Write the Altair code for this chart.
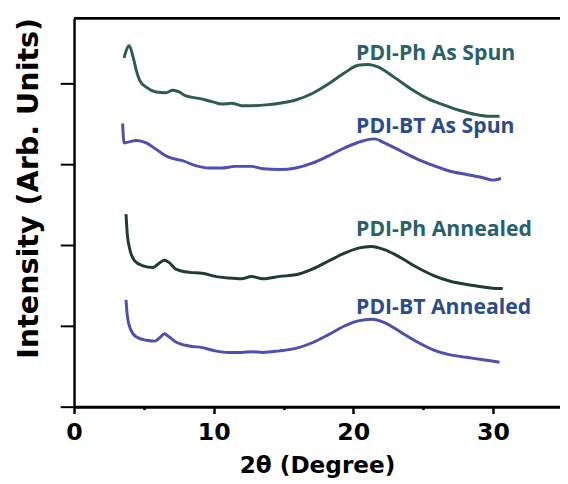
import altair as alt
import pandas as pd

# ---- data (2θ in degrees, intensity in arbitrary offset units) ----
ph_spun_x = [3.58, 3.95, 4.23, 4.47, 4.71, 5.17, 5.88, 6.58, 7.06, 7.53, 8.0, 8.94, 9.88, 10.59, 11.29, 12.0, 12.7,
             13.76, 14.7, 15.88, 17.06, 18.23, 19.41, 20.35, 21.05, 21.76, 22.94, 24.11, 25.29, 26.46, 27.64, 28.81,
             29.76, 30.47]
ph_spun_y = [4.31, 4.46, 4.32, 4.15, 4.03, 3.95, 3.89, 3.88, 3.91, 3.89, 3.84, 3.81, 3.77, 3.74, 3.75, 3.72, 3.72,
             3.73, 3.75, 3.79, 3.87, 3.99, 4.13, 4.22, 4.23, 4.20, 4.07, 3.93, 3.81, 3.73, 3.66, 3.61, 3.59, 3.59]

bt_spun_x = [3.48, 3.58, 3.88, 4.47, 5.17, 5.88, 6.82, 7.76, 8.70, 9.65, 10.59, 11.52, 12.7, 13.53, 14.7, 15.88,
             17.06, 18.23, 19.41, 20.59, 21.52, 22.23, 23.41, 24.58, 25.76, 26.94, 28.11, 29.29, 29.99, 30.58]
bt_spun_y = [3.50, 3.26, 3.27, 3.29, 3.26, 3.18, 3.08, 3.04, 2.98, 2.95, 2.95, 2.97, 2.97, 2.94, 2.93, 2.95, 3.01,
             3.10, 3.20, 3.28, 3.31, 3.26, 3.16, 3.06, 2.98, 2.91, 2.87, 2.83, 2.80, 2.82]

ph_ann_x = [3.72, 3.81, 4.0, 4.35, 4.94, 5.65, 6.0, 6.47, 6.82, 7.29, 8.24, 9.17, 10.11, 11.06, 12.0, 12.7, 13.53,
            14.7, 15.88, 17.06, 18.23, 19.41, 20.35, 21.29, 22.23, 23.41, 24.58, 25.76, 26.94, 28.11, 29.29, 30.23,
            30.7]
ph_ann_y = [2.38, 2.14, 1.94, 1.80, 1.74, 1.72, 1.76, 1.81, 1.78, 1.70, 1.66, 1.65, 1.61, 1.59, 1.58, 1.61, 1.58,
            1.61, 1.63, 1.70, 1.80, 1.90, 1.96, 1.98, 1.94, 1.84, 1.72, 1.62, 1.55, 1.51, 1.48, 1.46, 1.46]

bt_ann_x = [3.72, 3.81, 4.04, 4.47, 5.17, 5.77, 6.12, 6.47, 6.82, 7.29, 8.24, 9.17, 10.11, 11.06, 12.0, 12.7, 13.53,
            14.7, 15.88, 17.06, 18.23, 19.41, 20.35, 21.29, 22.23, 23.41, 24.58, 25.76, 26.94, 28.11, 29.29, 30.47]
bt_ann_y = [1.32, 1.13, 0.96, 0.86, 0.82, 0.81, 0.85, 0.90, 0.86, 0.80, 0.75, 0.73, 0.69, 0.67, 0.67, 0.68, 0.67,
            0.69, 0.72, 0.79, 0.89, 1.00, 1.06, 1.08, 1.04, 0.92, 0.80, 0.70, 0.64, 0.61, 0.58, 0.55]

series_names = ["PDI-Ph As Spun", "PDI-BT As Spun", "PDI-Ph Annealed", "PDI-BT Annealed"]
series_colors = ["#2c5c52", "#4d50b0", "#1f3b33", "#4d50b0"]
label_colors = ["#2a6068", "#2b4c8c", "#2a6068", "#2b4c8c"]
label_x = [20.2, 20.2, 20.2, 20.2]
label_y = [4.29, 3.38, 2.11, 1.15]

x_ticks = [0, 5, 10, 15, 20, 25, 30]
y_ticks = [0, 1, 2, 3, 4]

# ---- tables ----
xs = [ph_spun_x, bt_spun_x, ph_ann_x, bt_ann_x]
ys = [ph_spun_y, bt_spun_y, ph_ann_y, bt_ann_y]
rows = []
for name, sx, sy in zip(series_names, xs, ys):
    for a, b in zip(sx, sy):
        rows.append({"series": name, "x": a, "y": b})
df = pd.DataFrame(rows)
labels = pd.DataFrame({"name": series_names, "x": label_x, "y": label_y, "c": label_colors})

xscale = alt.Scale(domain=[0, 34.8], nice=False, zero=False)
yscale = alt.Scale(domain=[0, 4.8], nice=False, zero=False)

xaxis = alt.Axis(
    values=x_ticks,
    labelExpr="datum.value % 10 === 0 ? datum.label : ''",
    tickSize={"condition": {"test": "datum.value % 10 === 0", "value": 7}, "value": 3},
    labelFlush=False,
    grid=False,
    domainColor="black", domainWidth=3,
    tickColor="black", tickWidth=2.5,
    labelFont="DejaVu Sans", labelFontWeight="bold", labelFontSize=24, labelColor="black", labelPadding=7,
    title="2θ (Degree)", titleFont="DejaVu Sans", titleFontWeight="bold", titleFontSize=23.5,
    titleColor="black", titlePadding=10,
)
yaxis = alt.Axis(
    values=y_ticks, labels=False, grid=False,
    tickSize=14, tickWidth=2, tickColor="black",
    domainColor="black", domainWidth=2.5,
    title="Intensity (Arb. Units)", titleFont="DejaVu Sans", titleFontWeight="bold", titleFontSize=29,
    titleColor="black", titleX=-31, titleY=172,
)

lines = alt.Chart(df).mark_line(strokeWidth=3, interpolate="monotone").encode(
    x=alt.X("x:Q", scale=xscale, axis=xaxis),
    y=alt.Y("y:Q", scale=yscale, axis=yaxis),
    color=alt.Color("series:N", scale=alt.Scale(domain=series_names, range=series_colors), legend=None),
    detail="series:N",
)

texts = alt.Chart(labels).mark_text(
    align="left", baseline="alphabetic", font="Open Sans", fontWeight="bold", fontSize=21.5
).encode(
    x=alt.X("x:Q", scale=xscale),
    y=alt.Y("y:Q", scale=yscale),
    text="name:N",
    color=alt.Color("c:N", scale=None),
)

top_line = alt.Chart(labels).mark_rule(color="black", strokeWidth=2).encode(
    y=alt.value(0), x=alt.value(0), x2=alt.value(493)
)

chart = alt.layer(lines, texts, top_line).properties(
    width=493, height=394,
    autosize=alt.AutoSizeParams(type="none"),
    padding={"left": 67, "top": 7, "right": 0, "bottom": 75},
    background="white",
).configure_view(stroke=None)

chart.save("out.html", embed_options={"renderer": "svg", "actions": False})
